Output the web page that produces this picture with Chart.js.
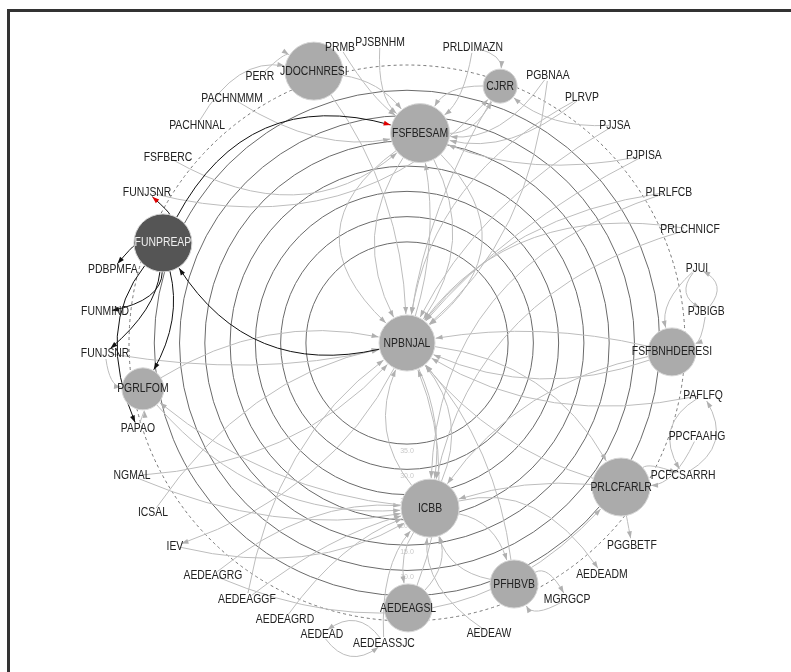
<!DOCTYPE html>
<html>
<head>
<meta charset="utf-8">
<script src="https://cdn.jsdelivr.net/npm/chart.js@4/dist/chart.umd.min.js"></script>
<style>
  body { margin: 0; background: #fff; }
  #frame { position: absolute; left: 7px; top: 9px; width: 800px; height: 700px;
           border-top: 3px solid #333; border-left: 3px solid #333; }
  #wrap { position: absolute; left: 0; top: 0; width: 791px; height: 672px; }
</style>
</head>
<body>
<div id="frame"></div>
<div id="wrap"><canvas id="canvas" width="791" height="672"></canvas></div>
<script>
// big nodes
const nodeNames = ['JDOCHNRESI', 'CJRR', 'FSFBESAM', 'FUNPREAP', 'NPBNJAL', 'FSFBNHDERESI',
  'PGRLFOM', 'PRLCFARLR', 'ICBB', 'PFHBVB', 'AEDEAGSL'];
const nodeX = [-33.5, 33.5, 4.7, -87.8, 0, 95.3, -95.0, 77.0, 8.3, 38.5, 0.4];
const nodeY = [97.8, 92.4, 75.5, 36.0, 0, -3.2, -16.5, -51.8, -59.4, -86.7, -95.3];
const nodeSize = [29, 17, 29.5, 29, 28, 24, 21, 29, 29, 24, 24];
const darkNodes = ['FUNPREAP'];

// label-only nodes (FUNJSNR appears twice)
const labelNames = ['PRMB', 'PJSBNHM', 'PRLDIMAZN', 'PERR', 'PACHNMMM', 'PACHNNAL', 'FSFBERC',
  'FUNJSNR', 'PDBPMFA', 'FUNMIND', 'FUNJSNR#2', 'PAPAO', 'NGMAL', 'ICSAL', 'IEV', 'AEDEAGRG',
  'AEDEAGGF', 'AEDEAGRD', 'AEDEAD', 'AEDEASSJC', 'AEDEAW', 'MGRGCP', 'AEDEADM', 'PGGBETF',
  'PCFCSARRH', 'PPCFAAHG', 'PAFLFQ', 'PJBIGB', 'PJUI', 'PRLCHNICF', 'PLRLFCB', 'PJPISA',
  'PJJSA', 'PLRVP', 'PGBNAA'];
const labelX = [-24.1, -9.7, 23.7, -52.9, -62.9, -75.5, -86.0, -93.5, -105.8, -108.6, -108.6,
  -96.8, -98.9, -91.4, -83.5, -69.8, -57.6, -43.9, -30.6, -8.3, 29.5, 57.6, 70.1, 80.9, 99.3,
  104.3, 106.5, 107.6, 104.3, 101.8, 94.2, 85.2, 74.8, 62.9, 50.7];
const labelY = [106.5, 108.3, 106.5, 96.0, 88.1, 78.4, 66.9, 54.3, 26.6, 11.2, -3.6, -30.9,
  -47.8, -61.1, -73.0, -83.5, -92.1, -99.3, -104.7, -107.9, -104.3, -92.1, -83.1, -72.7, -47.5,
  -33.5, -18.7, 11.5, 27.0, 41.0, 54.3, 67.3, 78.4, 88.5, 96.4];

// radial grid values
const ringMin = 0;
const ringMax = 55;
const ringStep = 5;
const ringLabels = [10, 15, 20, 25, 30, 35];

// edges: [from, to, bend]
const grayEdges = [
  ['PACHNNAL', 'JDOCHNRESI', -0.35], ['PERR', 'JDOCHNRESI', -0.4],
  ['PACHNMMM', 'FSFBESAM', 0.2], ['FSFBERC', 'FSFBESAM', 0.35], ['FUNJSNR', 'CJRR', 0.3],
  ['JDOCHNRESI', 'FSFBESAM', -0.2], ['JDOCHNRESI', 'NPBNJAL', -0.15], ['PRMB', 'FSFBESAM', 0.1],
  ['PJSBNHM', 'FSFBESAM', 0.25], ['PRLDIMAZN', 'FSFBESAM', -0.2], ['PRLDIMAZN', 'CJRR', -0.4],
  ['CJRR', 'FSFBESAM', 0.3], ['FSFBESAM', 'CJRR', 0.3], ['PGBNAA', 'FSFBESAM', -0.3],
  ['PLRVP', 'FSFBESAM', -0.25], ['PJJSA', 'NPBNJAL', 0.15], ['PJPISA', 'NPBNJAL', 0.1],
  ['PLRLFCB', 'NPBNJAL', 0.2], ['PRLCHNICF', 'NPBNJAL', 0.3], ['PGBNAA', 'NPBNJAL', -0.2],
  ['PLRVP', 'NPBNJAL', 0.25], ['CJRR', 'NPBNJAL', 0.1], ['FSFBESAM', 'NPBNJAL', 0.3],
  ['FSFBESAM', 'NPBNJAL', -0.3], ['NPBNJAL', 'FSFBESAM', 0.12], ['FSFBESAM', 'NPBNJAL', 0.6],
  ['FSFBESAM', 'NPBNJAL', -0.55], ['PJUI', 'PJBIGB', 0.6],
  ['PJBIGB', 'PJUI', 0.6], ['PJUI', 'FSFBNHDERESI', 0.3], ['PJBIGB', 'FSFBNHDERESI', -0.3],
  ['FSFBNHDERESI', 'NPBNJAL', 0.1], ['FSFBNHDERESI', 'NPBNJAL', -0.2], ['PAFLFQ', 'NPBNJAL', -0.2],
  ['PPCFAAHG', 'PRLCFARLR', -0.3], ['PAFLFQ', 'PCFCSARRH', 0.5], ['PCFCSARRH', 'PAFLFQ', 0.5],
  ['PRLCFARLR', 'PCFCSARRH', -0.3], ['PRLCFARLR', 'NPBNJAL', -0.15], ['NPBNJAL', 'PRLCFARLR', -0.25],
  ['PRLCFARLR', 'PGGBETF', 0], ['ICBB', 'PFHBVB', -0.3], ['ICBB', 'AEDEADM', -0.35],
  ['PFHBVB', 'ICBB', -0.3], ['PFHBVB', 'MGRGCP', -0.5], ['MGRGCP', 'PFHBVB', -0.5],
  ['ICBB', 'NPBNJAL', 0.3], ['ICBB', 'NPBNJAL', -0.3], ['NPBNJAL', 'ICBB', -0.15],
  ['AEDEAGSL', 'ICBB', 0.3], ['ICBB', 'AEDEAGSL', 0.2], ['AEDEAW', 'ICBB', -0.3],
  ['AEDEAGSL', 'NPBNJAL', 0.2], ['NGMAL', 'ICBB', 0.15], ['ICSAL', 'NPBNJAL', -0.2],
  ['NPBNJAL', 'IEV', -0.2], ['AEDEAGRG', 'ICBB', -0.2], ['AEDEAGGF', 'ICBB', -0.1],
  ['AEDEAGRD', 'ICBB', -0.15], ['AEDEAD', 'AEDEASSJC', 0.5], ['AEDEASSJC', 'AEDEAD', 0.5],
  ['AEDEASSJC', 'ICBB', -0.2], ['ICBB', 'PGRLFOM', -0.15], ['PGRLFOM', 'NPBNJAL', -0.2],
  ['PAPAO', 'PGRLFOM', 0.1], ['FUNJSNR#2', 'NPBNJAL', 0.1], ['PRLCFARLR', 'ICBB', 0.1],
  ['FSFBNHDERESI', 'ICBB', 0.2], ['PFHBVB', 'NPBNJAL', 0.15], ['NGMAL', 'NPBNJAL', 0.2],
  ['AEDEAGGF', 'NPBNJAL', -0.2], ['AEDEAGRG', 'PRLCFARLR', 0.35], ['IEV', 'ICBB', 0.2],
  ['PGRLFOM', 'ICBB', 0.25], ['FUNJSNR#2', 'PGRLFOM', 0.4], ['PJPISA', 'FSFBESAM', -0.15],
  ['PJJSA', 'CJRR', -0.2], ['PLRLFCB', 'ICBB', 0.35], ['PRLCHNICF', 'ICBB', 0.3]
];
const blackEdges = [
  ['FUNPREAP', 'FSFBESAM', -0.4], ['FUNPREAP', 'FUNJSNR', 0.3], ['FUNPREAP', 'PDBPMFA', 0.2],
  ['FUNPREAP', 'FUNMIND', -0.4], ['FUNPREAP', 'FUNJSNR#2', -0.2], ['FUNPREAP', 'PGRLFOM', -0.2],
  ['NPBNJAL', 'FUNPREAP', -0.35], ['FUNPREAP', 'PAPAO', 0.3]
];
const redHeads = ['FUNPREAP>FSFBESAM', 'FUNPREAP>FUNJSNR'];

const FONT = "'Liberation Sans', Arial, sans-serif";

function positions(chart) {
  const xs = chart.scales.x, ys = chart.scales.y;
  const pos = {};
  nodeNames.forEach((n, i) => {
    pos[n] = { x: xs.getPixelForValue(nodeX[i]), y: ys.getPixelForValue(nodeY[i]), r: nodeSize[i] };
  });
  labelNames.forEach((n, i) => {
    pos[n] = { x: xs.getPixelForValue(labelX[i]), y: ys.getPixelForValue(labelY[i]), r: 6 };
  });
  return pos;
}

// narrow text: squeeze a regular sans horizontally
function narrowText(ctx, text, x, y) {
  ctx.save();
  ctx.translate(x, y);
  ctx.scale(0.8, 1);
  ctx.fillText(text, 0, 0);
  ctx.restore();
}

function drawEdge(ctx, a, b, bend, color, head) {
  const dx = b.x - a.x, dy = b.y - a.y;
  const cx = (a.x + b.x) / 2 - dy * bend, cy = (a.y + b.y) / 2 + dx * bend;
  const ux = cx - a.x, uy = cy - a.y, ul = Math.hypot(ux, uy) || 1;
  const vx = cx - b.x, vy = cy - b.y, vl = Math.hypot(vx, vy) || 1;
  const sx = a.x + ux / ul * a.r, sy = a.y + uy / ul * a.r;
  const ex = b.x + vx / vl * (b.r + 1), ey = b.y + vy / vl * (b.r + 1);
  ctx.strokeStyle = color;
  ctx.beginPath();
  ctx.moveTo(sx, sy);
  ctx.quadraticCurveTo(cx, cy, ex, ey);
  ctx.stroke();
  const ang = Math.atan2(-vy, -vx);
  ctx.fillStyle = head;
  ctx.beginPath();
  ctx.moveTo(ex, ey);
  ctx.lineTo(ex - 7 * Math.cos(ang) + 2.5 * Math.sin(ang), ey - 7 * Math.sin(ang) - 2.5 * Math.cos(ang));
  ctx.lineTo(ex - 7 * Math.cos(ang) - 2.5 * Math.sin(ang), ey - 7 * Math.sin(ang) + 2.5 * Math.cos(ang));
  ctx.closePath();
  ctx.fill();
}

const networkPlugin = {
  id: 'network',
  beforeDatasetsDraw(chart) {
    const ctx = chart.ctx;
    const rs = chart.scales.r;
    const pos = positions(chart);
    ctx.save();
    // outer dashed ring
    ctx.strokeStyle = '#777';
    ctx.lineWidth = 1;
    ctx.setLineDash([3, 3]);
    ctx.beginPath();
    ctx.arc(rs.xCenter, rs.yCenter, rs.getDistanceFromCenterForValue(ringMin), 0, Math.PI * 2);
    ctx.stroke();
    ctx.setLineDash([]);
    // ring labels
    ctx.font = '7px ' + FONT;
    ctx.fillStyle = '#c8c8c8';
    ctx.textAlign = 'center';
    ctx.textBaseline = 'top';
    ringLabels.forEach(v => {
      ctx.fillText(v.toFixed(1), rs.xCenter, rs.yCenter + rs.getDistanceFromCenterForValue(v) + 3);
    });
    ctx.lineWidth = 1;
    grayEdges.forEach(([f, t, b]) => drawEdge(ctx, pos[f], pos[t], b, '#bdbdbd', '#b0b0b0'));
    blackEdges.forEach(([f, t, b]) => {
      const head = redHeads.includes(f + '>' + t) ? '#e00000' : '#111';
      drawEdge(ctx, pos[f], pos[t], b, '#111', head);
    });
    ctx.restore();
  },
  afterDatasetsDraw(chart) {
    const ctx = chart.ctx;
    const pos = positions(chart);
    ctx.save();
    ctx.font = '13px ' + FONT;
    ctx.textAlign = 'center';
    ctx.textBaseline = 'middle';
    nodeNames.forEach(n => {
      ctx.fillStyle = darkNodes.includes(n) ? '#f0f0f0' : '#222';
      narrowText(ctx, n, pos[n].x, pos[n].y);
    });
    ctx.fillStyle = '#222';
    labelNames.forEach(n => narrowText(ctx, n.split('#')[0], pos[n].x, pos[n].y));
    ctx.restore();
  }
};

new Chart(document.getElementById('canvas'), {
  type: 'bubble',
  data: {
    datasets: [
      {
        label: 'nodes',
        data: nodeNames.map((n, i) => ({ x: nodeX[i], y: nodeY[i], r: nodeSize[i] })),
        backgroundColor: nodeNames.map(n => darkNodes.includes(n) ? '#555555' : '#ababab'),
        borderColor: '#d6d6d6',
        borderWidth: 1,
        clip: false
      },
      {
        label: 'labels',
        data: labelNames.map((n, i) => ({ x: labelX[i], y: labelY[i], r: 0 })),
        backgroundColor: 'rgba(0,0,0,0)',
        borderWidth: 0,
        clip: false
      }
    ]
  },
  options: {
    responsive: false,
    animation: false,
    events: [],
    layout: { autoPadding: false, padding: { left: 129, right: 106, top: 65, bottom: 51 } },
    plugins: { legend: { display: false }, tooltip: { enabled: false } },
    scales: {
      x: { type: 'linear', min: -100, max: 100, display: false },
      y: { type: 'linear', min: -100, max: 100, display: false },
      r: {
        type: 'radialLinear',
        min: ringMin,
        max: ringMax,
        reverse: true,
        angleLines: { display: false },
        pointLabels: { display: false },
        ticks: { stepSize: ringStep, display: false },
        grid: {
          circular: true,
          lineWidth: 1,
          color: c => (c.tick && c.tick.value > ringMin && c.tick.value <= 35) ? '#6a6a6a' : 'rgba(0,0,0,0)'
        }
      }
    }
  },
  plugins: [networkPlugin]
});
</script>
</body>
</html>
